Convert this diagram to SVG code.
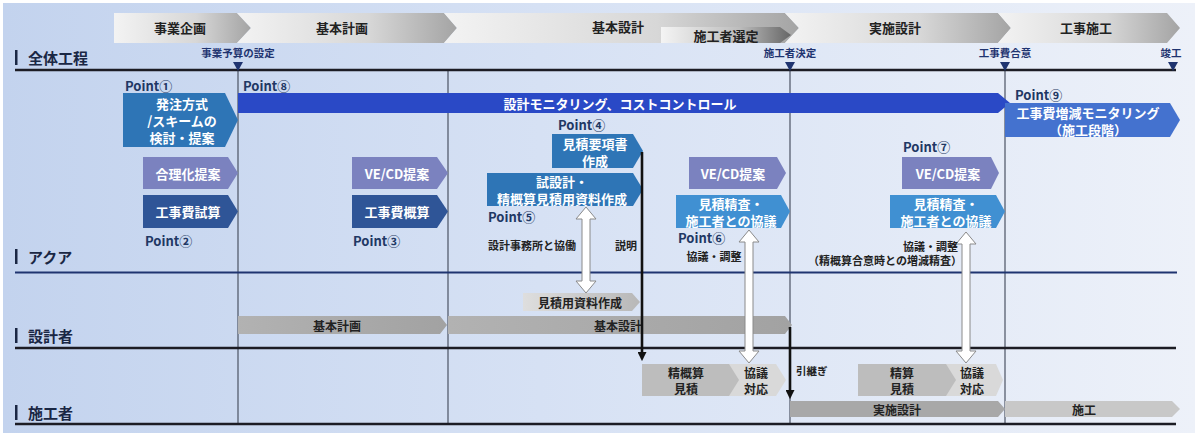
<svg xmlns="http://www.w3.org/2000/svg" width="1200" height="438" viewBox="0 0 1200 438">
<defs>
<linearGradient id="bg" x1="0" y1="0" x2="1" y2="0">
<stop offset="0" stop-color="#c3d3ee"/>
<stop offset="0.45" stop-color="#d6e1f4"/>
<stop offset="1" stop-color="#edf1f9"/>
</linearGradient>
<linearGradient id="hdr" x1="0" y1="0" x2="1" y2="0">
<stop offset="0" stop-color="#f3f3f3"/>
<stop offset="0.6" stop-color="#d7d7d7"/>
<stop offset="1" stop-color="#a4a4a4"/>
</linearGradient>
<linearGradient id="sel" x1="0" y1="0" x2="1" y2="0">
<stop offset="0" stop-color="#f4f4f4"/>
<stop offset="0.6" stop-color="#bdbdbd"/>
<stop offset="1" stop-color="#666666"/>
</linearGradient>
<linearGradient id="g1" x1="0" y1="0" x2="1" y2="0">
<stop offset="0" stop-color="#b2b2b2"/>
<stop offset="1" stop-color="#a2a2a2"/>
</linearGradient>
<linearGradient id="g2" x1="0" y1="0" x2="1" y2="0">
<stop offset="0" stop-color="#dedede"/>
<stop offset="1" stop-color="#b8b8b8"/>
</linearGradient>
<marker id="ah" viewBox="0 0 10 10" refX="1" refY="5" markerUnits="userSpaceOnUse" markerWidth="9" markerHeight="9" orient="auto">
<path d="M0 0 L10 5 L0 10 Z" fill="#111"/>
</marker>
<style>
text{font-family:"Noto Sans CJK JP","Noto Sans",sans-serif;font-weight:700;dominant-baseline:central;text-anchor:middle}
.hd{font-size:13px;fill:#222}
.ms{font-size:10.5px;fill:#1f3470}
.ln{font-size:15px;fill:#1a2744;text-anchor:start}
.pt{font-size:13px;fill:#1f3864;text-anchor:start}
.bx{font-size:13px;fill:#fff}
.lb{font-size:11px;fill:#222}
.gt{font-size:12px;fill:#222}
.vl{stroke:#4b5263;stroke-width:1.2}
.hl{stroke:#1c1c24;stroke-width:2.6}
.mid{fill:#2e75b6}
.roy{fill:#2a49c6}
.lav{fill:#7b82bf}
.dkb{fill:#2f5597}
.lt{fill:#4090d2}
.wa{fill:#fff;stroke:#8a8a8a;stroke-width:1}
.ba{stroke:#111;stroke-width:2.6;fill:none}
</style>
</defs>
<rect x="3" y="3" width="1192" height="430" fill="url(#bg)"/>

<g id="grid">
<line class="vl" x1="238" y1="70" x2="238" y2="424"/>
<line class="vl" x1="448" y1="70" x2="448" y2="424"/>
<line class="vl" x1="790" y1="70" x2="790" y2="424"/>
<line class="vl" x1="1005" y1="70" x2="1005" y2="424"/>
<line class="hl" x1="15" y1="70" x2="1176" y2="70"/>
<line x1="15" y1="272.5" x2="1177" y2="272.5" stroke="#1f3470" stroke-width="2"/>
<line class="hl" x1="15" y1="348" x2="1176" y2="348"/>
<line class="hl" x1="15" y1="424" x2="1176" y2="424"/>
</g>

<g id="header">
<g id="ph1"><path d="M114 13 H237 L251 28 L237 43 H114 Z" fill="url(#hdr)"/><text class="hd" x="180" y="27">事業企画</text></g>
<g id="ph2"><path d="M237 13 H444 L457 28 L444 43 H237 L251 28 Z" fill="url(#hdr)"/><text class="hd" x="342" y="27">基本計画</text></g>
<g id="ph3"><path d="M444 13 H785 L799 28 L785 43 H444 L457 28 Z" fill="url(#hdr)"/><text class="hd" x="618" y="26">基本設計</text></g>
<g id="ph3b"><path d="M661 27 H780 L791 35 L780 43 H661 Z" fill="url(#sel)"/><text class="hd" x="726" y="35">施工者選定</text></g>
<g id="ph4"><path d="M785 13 H998 L1011 28 L998 43 H785 L799 28 Z" fill="url(#hdr)"/><text class="hd" x="895" y="27">実施設計</text></g>
<g id="ph5"><path d="M998 13 H1167 L1180 28 L1167 43 H998 L1011 28 Z" fill="url(#hdr)"/><text class="hd" x="1086" y="27">工事施工</text></g>
</g>

<g id="milestones">
<g id="m1"><text class="ms" x="238" y="52.5">事業予算の設定</text><path d="M233 62 H243 L238 71 Z" fill="#1f3470"/></g>
<g id="m2"><text class="ms" x="790" y="52.5">施工者決定</text><path d="M785 62 H795 L790 71 Z" fill="#1f3470"/></g>
<g id="m3"><text class="ms" x="1005" y="52.5">工事費合意</text><path d="M1000 62 H1010 L1005 71 Z" fill="#1f3470"/></g>
<g id="m4"><text class="ms" x="1171" y="52.5">竣工</text><path d="M1168 62 H1178 L1173 71 Z" fill="#1f3470"/></g>
</g>

<g id="lanes">
<g id="lane1"><rect x="15" y="50" width="2.5" height="15" fill="#1a2744"/><text class="ln" x="28" y="57">全体工程</text></g>
<g id="lane2"><rect x="15" y="249" width="2.5" height="15" fill="#1a2744"/><text class="ln" x="28" y="256">アクア</text></g>
<g id="lane3"><rect x="15" y="328" width="2.5" height="15" fill="#1a2744"/><text class="ln" x="28" y="335">設計者</text></g>
<g id="lane4"><rect x="15" y="405" width="2.5" height="15" fill="#1a2744"/><text class="ln" x="28" y="412">施工者</text></g>
</g>

<g id="points">
<text class="pt" x="125" y="85">Point①</text>
<text class="pt" x="243" y="85">Point⑧</text>
<text class="pt" x="1015" y="94">Point⑨</text>
<text class="pt" x="145" y="240">Point②</text>
<text class="pt" x="353" y="240">Point③</text>
<text class="pt" x="558" y="124.5">Point④</text>
<text class="pt" x="488" y="216">Point⑤</text>
<text class="pt" x="678" y="237">Point⑥</text>
<text class="pt" x="903" y="146">Point⑦</text>
</g>

<g id="n-hacchu"><path class="mid" d="M123 93 H225 L238 120 L225 147 H123 Z"/>
<text class="bx" x="182" y="103">発注方式</text><text class="bx" x="182" y="120">/スキームの</text><text class="bx" x="182" y="137">検討・提案</text></g>
<g id="n-monitor"><path class="roy" d="M238 93 H998 L1010 103 L998 113 H238 Z"/><text class="bx" x="620" y="103">設計モニタリング、コストコントロール</text></g>
<g id="n-zougen"><path fill="#4472cf" d="M1005 103 H1170 L1180 120 L1170 137 H1005 Z"/>
<text class="bx" x="1088" y="112">工事費増減モニタリング</text><text class="bx" x="1088" y="129">（施工段階）</text></g>
<g id="n-gouri"><path class="lav" d="M143 157 H228 L238 173 L228 189 H143 Z"/><text class="bx" x="188" y="173">合理化提案</text></g>
<g id="n-shisan"><path class="dkb" d="M143 195 H228 L238 211.5 L228 228 H143 Z"/><text class="bx" x="188" y="211.5">工事費試算</text></g>
<g id="n-vecd1"><path class="lav" d="M352 157 H437 L448 173 L437 189 H352 Z"/><text class="bx" x="397" y="173">VE/CD提案</text></g>
<g id="n-gaisan"><path class="dkb" d="M352 195 H437 L448 211.5 L437 228 H352 Z"/><text class="bx" x="397" y="211.5">工事費概算</text></g>
<g id="n-youkou"><path class="mid" d="M552 134 H633 L643 151 L633 168 H552 Z"/>
<text class="bx" x="595" y="143.5">見積要項書</text><text class="bx" x="595" y="160.5">作成</text></g>
<g id="n-shisekkei"><path class="mid" d="M487 173 H633 L643 189.5 L633 206 H487 Z"/>
<text class="bx" x="562" y="181">試設計・</text><text class="bx" x="562" y="198">精概算見積用資料作成</text></g>
<g id="n-vecd2"><path class="lav" d="M689 157 H777 L786 173 L777 189 H689 Z"/><text class="bx" x="733" y="173">VE/CD提案</text></g>
<g id="n-seisa1"><path class="lt" d="M676 195 H781 L790 211.5 L781 228 H676 Z"/>
<text class="bx" x="731" y="203">見積精査・</text><text class="bx" x="731" y="220">施工者との協議</text></g>
<g id="n-vecd3"><path class="lav" d="M902 157 H991 L999 173 L991 189 H902 Z"/><text class="bx" x="948" y="173">VE/CD提案</text></g>
<g id="n-seisa2"><path class="lt" d="M890 195 H996 L1005 211.5 L996 228 H890 Z"/>
<text class="bx" x="946" y="203">見積精査・</text><text class="bx" x="946" y="220">施工者との協議</text></g>

<g id="n-mitsushiryo"><path fill="url(#g2)" d="M523 293 H632 L640 302 L632 311 H523 Z"/><text class="gt" x="580" y="302">見積用資料作成</text></g>
<g id="n-kihonkeikaku"><path fill="url(#g1)" d="M238 316 H440 L447 325 L440 334 H238 Z"/><text class="gt" x="337" y="325">基本計画</text></g>
<g id="n-kihonsekkei"><path fill="url(#g1)" d="M448 316 H785 L792 325 L785 334 H448 Z"/><text class="gt" x="618" y="325">基本設計</text></g>

<g id="n-seigaisan"><path fill="#d9d9d9" d="M642 364 H776 L786 380 L776 396 H642 Z"/><path fill="#bdbdbd" d="M642 364 H729 L739 380 L729 396 H642 Z"/>
<text class="gt" x="686" y="372">精概算</text><text class="gt" x="686" y="388">見積</text>
<text class="gt" x="756" y="372">協議</text><text class="gt" x="756" y="388">対応</text></g>
<g id="n-seisan"><path fill="#d9d9d9" d="M858 364 H996 L1003 380 L996 396 H858 Z"/><path fill="#bdbdbd" d="M858 364 H946 L956 380 L946 396 H858 Z"/>
<text class="gt" x="902" y="372">精算</text><text class="gt" x="902" y="388">見積</text>
<text class="gt" x="972" y="372">協議</text><text class="gt" x="972" y="388">対応</text></g>
<g id="n-jisshi"><path fill="#a8a8a8" d="M790 401 H998 L1005 409 L998 417 H790 Z"/><text class="gt" x="897" y="409">実施設計</text></g>
<g id="n-sekou"><path fill="#c8c8c8" d="M1005 401 H1172 L1180 409 L1172 417 H1005 Z"/><text class="gt" x="1084" y="409">施工</text></g>

<g id="connectors">
<line class="ba" x1="642" y1="152" x2="642" y2="353" marker-end="url(#ah)"/>
<line class="ba" x1="790" y1="327" x2="790" y2="391" marker-end="url(#ah)"/>
<path class="wa" d="M586 207 L596 219 L590 219 L590 281 L596 281 L586 293 L576 281 L582 281 L582 219 L576 219 Z"/>
<path class="wa" d="M749 230 L759 242 L753 242 L753 351 L759 351 L749 363 L739 351 L745 351 L745 242 L739 242 Z"/>
<path class="wa" d="M966 232 L976 244 L970 244 L970 351 L976 351 L966 363 L956 351 L962 351 L962 244 L956 244 Z"/>
<text class="lb" x="532" y="245">設計事務所と協働</text>
<text class="lb" x="626" y="245">説明</text>
<text class="lb" x="714" y="256">協議・調整</text>
<text class="lb" x="958" y="246" style="text-anchor:end">協議・調整</text>
<text class="lb" x="962" y="260" style="text-anchor:end">（精概算合意時との増減精査）</text>
<text class="lb" x="796" y="370" style="text-anchor:start;font-size:10.5px">引継ぎ</text>
</g>
</svg>
